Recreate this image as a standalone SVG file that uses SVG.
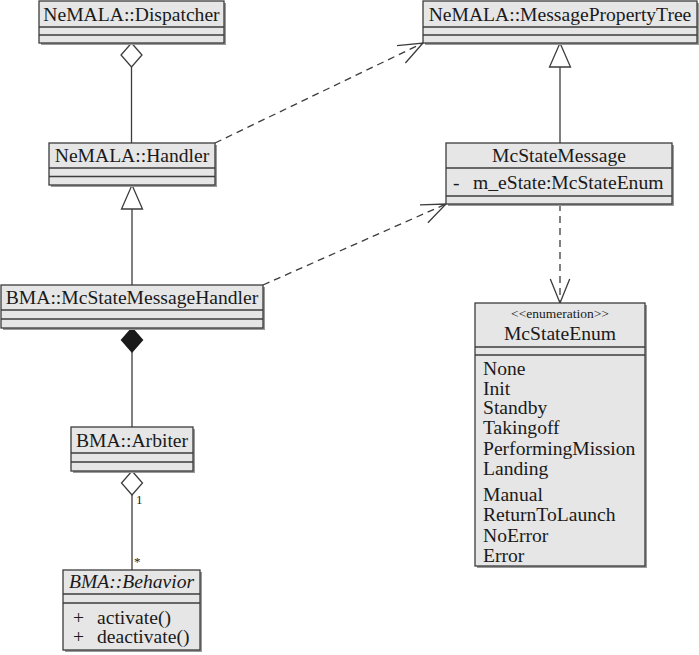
<svg xmlns="http://www.w3.org/2000/svg" width="699" height="655" viewBox="0 0 699 655">
<defs>
<style>
.bg{fill:#ffffff}
.sh{fill:#9a9a9a}
.box{fill:#e6e6e6;stroke:#3c3c3c;stroke-width:1.3}
.div{stroke:#3c3c3c;stroke-width:1.3;fill:none}
.t{font-family:"Liberation Serif","Times New Roman",serif;font-size:19.6px;fill:#1a1a1a}
.c{text-anchor:middle}
.it{font-style:italic}
.st{font-family:"Liberation Serif","Times New Roman",serif;font-size:13.5px;fill:#1a1a1a;text-anchor:middle}
.sm{font-family:"Liberation Serif","Times New Roman",serif;font-size:13px;fill:#1a1a1a}
.ln{stroke:#3c3c3c;stroke-width:1.3;fill:none}
.ds{stroke:#3c3c3c;stroke-width:1.3;fill:none;stroke-dasharray:7,5}
.hol{fill:#ffffff;stroke:#3c3c3c;stroke-width:1.3}
.fil{fill:#1a1a1a;stroke:#1a1a1a;stroke-width:1.3}
</style>
</defs>
<rect class="bg" x="0" y="0" width="699" height="655"/>

<g id="connectors">
<line class="ln" x1="131.5" y1="67" x2="131.5" y2="143"/>
<polygon class="hol" points="131.5,43 142,55 131.5,67 121,55"/>
<line class="ds" x1="215" y1="143" x2="423" y2="43"/>
<polyline class="ln" points="397,45.6 423,43 405.4,63"/>
<line class="ln" x1="560" y1="67" x2="560" y2="143"/>
<polygon class="hol" points="560,43 570.5,67 549.5,67"/>
<line class="ln" x1="132" y1="209" x2="132" y2="285"/>
<polygon class="hol" points="132,185 142.5,209 121.5,209"/>
<line class="ds" x1="263" y1="285" x2="446" y2="204"/>
<polyline class="ln" points="420,204.9 446,204 427.9,222.7"/>
<line class="ds" x1="560" y1="204" x2="560" y2="303"/>
<polyline class="ln" points="550.3,279 560,303 569.7,279"/>
<line class="ln" x1="132" y1="352" x2="132" y2="427"/>
<polygon class="fil" points="132,328 142.5,340 132,352 121.5,340"/>
<line class="ln" x1="132" y1="495" x2="132" y2="570"/>
<polygon class="hol" points="132,471 142.5,483 132,495 121.5,483"/>
<text class="sm" x="136" y="504">1</text>
<text class="sm" x="134" y="566">*</text>
</g>

<g id="dispatcher">
<rect class="sh" x="41" y="3" width="185" height="42"/>
<rect class="box" x="39" y="1" width="185" height="42"/>
<line class="div" x1="39" y1="27" x2="224" y2="27"/>
<line class="div" x1="39" y1="35" x2="224" y2="35"/>
<text class="t c" x="131.5" y="21">NeMALA::Dispatcher</text>
</g>

<g id="messagePropertyTree">
<rect class="sh" x="425" y="3" width="274" height="42"/>
<rect class="box" x="423" y="1" width="274" height="42"/>
<line class="div" x1="423" y1="27" x2="697" y2="27"/>
<line class="div" x1="423" y1="35" x2="697" y2="35"/>
<text class="t c" x="560" y="21">NeMALA::MessagePropertyTree</text>
</g>

<g id="handler">
<rect class="sh" x="51" y="145" width="166" height="42"/>
<rect class="box" x="49" y="143" width="166" height="42"/>
<line class="div" x1="49" y1="168" x2="215" y2="168"/>
<line class="div" x1="49" y1="176.5" x2="215" y2="176.5"/>
<text class="t c" x="132" y="162">NeMALA::Handler</text>
</g>

<g id="mcStateMessage">
<rect class="sh" x="448" y="145" width="226" height="61"/>
<rect class="box" x="446" y="143" width="226" height="61"/>
<line class="div" x1="446" y1="168" x2="672" y2="168"/>
<line class="div" x1="446" y1="196" x2="672" y2="196"/>
<text class="t c" x="559" y="162">McStateMessage</text>
<text class="t" x="453" y="189">-</text>
<text class="t" x="473" y="189">m_eState:McStateEnum</text>
</g>

<g id="mcStateMessageHandler">
<rect class="sh" x="3" y="287" width="262" height="43"/>
<rect class="box" x="1" y="285" width="262" height="43"/>
<line class="div" x1="1" y1="310" x2="263" y2="310"/>
<line class="div" x1="1" y1="319" x2="263" y2="319"/>
<text class="t c" x="132" y="304">BMA::McStateMessageHandler</text>
</g>

<g id="mcStateEnum">
<rect class="sh" x="477" y="305" width="170" height="263"/>
<rect class="box" x="475" y="303" width="170" height="263"/>
<line class="div" x1="475" y1="347" x2="645" y2="347"/>
<line class="div" x1="475" y1="355" x2="645" y2="355"/>
<text class="st" x="560" y="318">&lt;&lt;enumeration&gt;&gt;</text>
<text class="t c" x="560" y="340">McStateEnum</text>
<text class="t" x="483" y="375">None</text>
<text class="t" x="483" y="395">Init</text>
<text class="t" x="483" y="414">Standby</text>
<text class="t" x="483" y="434">Takingoff</text>
<text class="t" x="483" y="455">PerformingMission</text>
<text class="t" x="483" y="475">Landing</text>
<text class="t" x="483" y="501">Manual</text>
<text class="t" x="483" y="521">ReturnToLaunch</text>
<text class="t" x="483" y="542">NoError</text>
<text class="t" x="483" y="562">Error</text>
</g>

<g id="arbiter">
<rect class="sh" x="73" y="429" width="122" height="44"/>
<rect class="box" x="71" y="427" width="122" height="44"/>
<line class="div" x1="71" y1="453" x2="193" y2="453"/>
<line class="div" x1="71" y1="462" x2="193" y2="462"/>
<text class="t c" x="132" y="447">BMA::Arbiter</text>
</g>

<g id="behavior">
<rect class="sh" x="65" y="572" width="137" height="80"/>
<rect class="box" x="63" y="570" width="137" height="80"/>
<line class="div" x1="63" y1="594" x2="200" y2="594"/>
<line class="div" x1="63" y1="603" x2="200" y2="603"/>
<text class="t c it" x="131.5" y="588">BMA::Behavior</text>
<text class="t" x="73" y="624">+</text>
<text class="t" x="97" y="624">activate()</text>
<text class="t" x="73" y="643">+</text>
<text class="t" x="97" y="643">deactivate()</text>
</g>
</svg>
